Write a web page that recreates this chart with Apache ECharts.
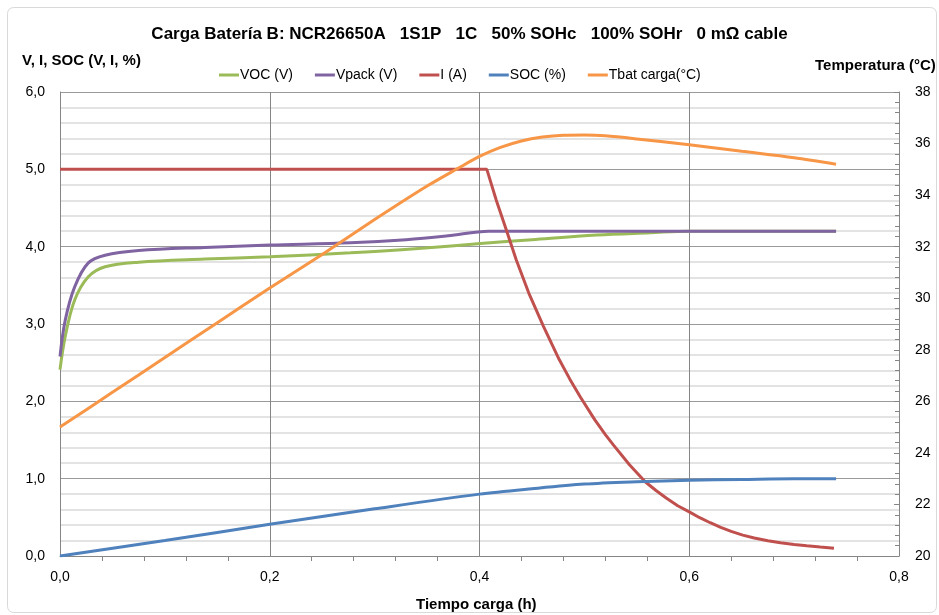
<!DOCTYPE html>
<html>
<head>
<meta charset="utf-8">
<script src="https://cdn.jsdelivr.net/npm/echarts@6/dist/echarts.min.js"></script>
<style>
  html, body { margin: 0; padding: 0; background: #fff; }
  #chart { width: 939px; height: 615px; }
</style>
</head>
<body>
<div id="chart"></div>
<script>
// Charging test, battery B: open-circuit voltage, pack voltage, current, SOC and cell temperature
const FONT = '"Liberation Sans Narrow", "Liberation Sans", sans-serif';

const titleText = 'Carga Batería B: NCR26650A   1S1P   1C   50% SOHc   100% SOHr   0 mΩ cable';
const seriesNames = ['VOC (V)', 'Vpack (V)', 'I (A)', 'SOC (%)', 'Tbat carga(°C)'];
const seriesColors = ['#9bbb59', '#8064a2', '#c0504d', '#4f81bd', '#f79646'];

// time axis (h) and values for each trace
const vocTime   = [0, 0.005, 0.014, 0.027, 0.043, 0.075, 0.138, 0.2, 0.277, 0.345, 0.401, 0.45, 0.512, 0.563, 0.6, 0.74];
const vocValues = [2.41, 2.84, 3.31, 3.61, 3.74, 3.80, 3.84, 3.87, 3.92, 3.98, 4.04, 4.09, 4.15, 4.18, 4.2, 4.2];

const vpackTime   = [0, 0.005, 0.014, 0.027, 0.043, 0.075, 0.138, 0.2, 0.277, 0.33, 0.37, 0.409, 0.5, 0.6, 0.74];
const vpackValues = [2.58, 3.05, 3.48, 3.79, 3.89, 3.95, 3.99, 4.02, 4.05, 4.09, 4.14, 4.2, 4.2, 4.2, 4.2];

const currentTime   = [0, 0.407, 0.416, 0.426, 0.435, 0.447, 0.461, 0.476, 0.486, 0.496, 0.51, 0.52, 0.528, 0.543, 0.558, 0.568, 0.578, 0.589, 0.6, 0.61, 0.62, 0.63, 0.64, 0.651, 0.662, 0.675, 0.687, 0.7, 0.712, 0.725, 0.738];
const currentValues = [5.0, 5.0, 4.6, 4.2, 3.83, 3.40, 2.97, 2.54, 2.29, 2.06, 1.76, 1.57, 1.43, 1.18, 0.96, 0.85, 0.75, 0.65, 0.57, 0.495, 0.43, 0.37, 0.318, 0.27, 0.232, 0.197, 0.172, 0.15, 0.133, 0.116, 0.10];

const socTime   = [0, 0.1, 0.2, 0.3, 0.4, 0.45, 0.5, 0.55, 0.6, 0.65, 0.7, 0.74];
const socValues = [0, 0.2, 0.41, 0.61, 0.80, 0.87, 0.93, 0.96, 0.98, 0.99, 1.0, 1.0];

const tempTime   = [0, 0.05, 0.1, 0.15, 0.2, 0.25, 0.3, 0.35, 0.38, 0.4, 0.42, 0.44, 0.46, 0.48, 0.5, 0.52, 0.55, 0.6, 0.65, 0.7, 0.74];
const tempValues = [25.0, 26.35, 27.7, 29.05, 30.4, 31.7, 33.05, 34.35, 35.05, 35.5, 35.85, 36.1, 36.25, 36.32, 36.33, 36.3, 36.18, 35.95, 35.7, 35.45, 35.2];

const pairs = (xs, ys) => xs.map((x, i) => [x, ys[i]]);
const comma = (v, d) => v.toFixed(d).replace('.', ',');

const chart = echarts.init(document.getElementById('chart'), null, { renderer: 'canvas' });

const lineSeries = (idx, data, yAxisIndex, smooth) => ({
  name: seriesNames[idx],
  type: 'line',
  data: data,
  yAxisIndex: yAxisIndex,
  showSymbol: false,
  smooth: smooth,
  lineStyle: { color: seriesColors[idx], width: 3 },
  itemStyle: { color: seriesColors[idx] },
  z: 3 + idx
});

chart.setOption({
  animation: false,
  backgroundColor: '#fff',
  textStyle: { fontFamily: FONT },
  title: {
    text: titleText,
    left: 'center',
    top: 21,
    textStyle: { fontFamily: FONT, fontSize: 17, fontWeight: 'bold', color: '#000' }
  },
  legend: {
    top: 63,
    left: 214,
    itemWidth: 20,
    itemHeight: 3,
    itemGap: 22,
    icon: 'rect',
    data: seriesNames,
    textStyle: { fontFamily: FONT, fontSize: 14, color: '#000', padding: [0, 0, 0, -4] }
  },
  grid: { left: 60, right: 40, top: 92, bottom: 59, containLabel: false },
  xAxis: {
    type: 'value',
    min: 0, max: 0.8, interval: 0.2,
    axisLine: { show: true, lineStyle: { color: '#868686', width: 1 } },
    axisTick: { show: false },
    minorTick: { show: true, splitNumber: 5, length: 5, lineStyle: { color: '#868686' } },
    axisLabel: { formatter: v => comma(v, 1), fontSize: 14, color: '#000', margin: 14, fontFamily: FONT },
    splitLine: { show: true, lineStyle: { color: '#868686', width: 1 } }
  },
  yAxis: [
    {
      type: 'value',
      min: 0, max: 6, interval: 1,
      axisLine: { show: true, lineStyle: { color: '#868686' } },
      axisTick: { show: false },
      axisLabel: { formatter: v => comma(v, 1), fontSize: 14, color: '#000', margin: 15, fontFamily: FONT },
      splitLine: { show: true, lineStyle: { color: '#9a9a9a', width: 1 } },
      minorTick: { show: false, splitNumber: 5 },
      minorSplitLine: { show: true, lineStyle: { color: '#dadada', width: 1.5 } }
    },
    {
      type: 'value',
      min: 20, max: 38, interval: 2,
      position: 'right',
      axisLine: { show: true, lineStyle: { color: '#868686' } },
      axisTick: { show: true, inside: true, length: 5, lineStyle: { color: '#868686' } },
      minorTick: { show: true, splitNumber: 5, length: 4, lineStyle: { color: '#868686' } },
      axisLabel: { fontSize: 14, color: '#000', margin: 16, fontFamily: FONT },
      splitLine: { show: false }
    }
  ],
  series: [
    lineSeries(0, pairs(vocTime, vocValues), 0, 0.35),
    lineSeries(1, pairs(vpackTime, vpackValues), 0, 0.35),
    lineSeries(2, pairs(currentTime, currentValues), 0, false),
    lineSeries(3, pairs(socTime, socValues), 0, 0.3),
    lineSeries(4, pairs(tempTime, tempValues), 1, 0.3)
  ],
  graphic: [
    {
      type: 'rect', silent: true, z: -1,
      shape: { x: 7.5, y: 7.5, width: 929, height: 605, r: 6 },
      style: { fill: 'none', stroke: '#d9d9d9', lineWidth: 1 }
    },
    {
      type: 'text', left: 22, top: 53,
      style: { text: 'V, I, SOC (V, I, %)', font: 'bold 15px ' + FONT, fill: '#000' }
    },
    {
      type: 'text', left: 815, top: 58,
      style: { text: 'Temperatura (°C)', font: 'bold 15px ' + FONT, fill: '#000' }
    },
    {
      type: 'text', left: 416, top: 597,
      style: { text: 'Tiempo carga (h)', font: 'bold 15px ' + FONT, fill: '#000' }
    }
  ]
});
</script>
</body>
</html>
